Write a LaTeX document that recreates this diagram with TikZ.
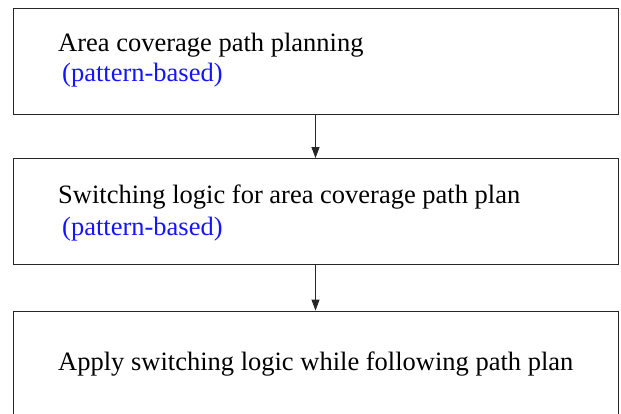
\documentclass[tikz,border=0pt]{standalone}
\usepackage{fontspec}
\setmainfont{Liberation Serif}
\usetikzlibrary{arrows.meta}
\definecolor{lblue}{RGB}{20,20,255}
\tikzset{
  box/.style={draw=black!85, line width=0.8pt, minimum width=605pt, minimum height=106pt, inner sep=0pt},
  txt/.style={anchor=base west, inner sep=0pt, font=\fontsize{26.5}{30}\selectfont},
  sub/.style={txt, text=lblue},
  conn/.style={draw=black!85, line width=0.8pt, -{Triangle[length=11pt,width=8pt]}}
}
\begin{document}
\begin{tikzpicture}[x=1pt,y=-1pt]
\useasboundingbox (0,0) rectangle (621,414);
\node[box] (b1) at (315.5,61) {};
\node[box] (b2) at (315.5,211.5) {};
\node[box] (b3) at (315.5,364) {};
\node[txt] (t1) at (58,52) {Area coverage path planning};
\node[sub] (s1) at (62,82) {(pattern-based)};
\node[txt] (t2) at (58,204) {Switching logic for area coverage path plan};
\node[sub] (s2) at (62,236) {(pattern-based)};
\node[txt] (t3) at (58,370) {Apply switching logic while following path plan};
\draw[conn] (b1.south) -- (b2.north);
\draw[conn] (b2.south) -- (b3.north);
\end{tikzpicture}
\end{document}
